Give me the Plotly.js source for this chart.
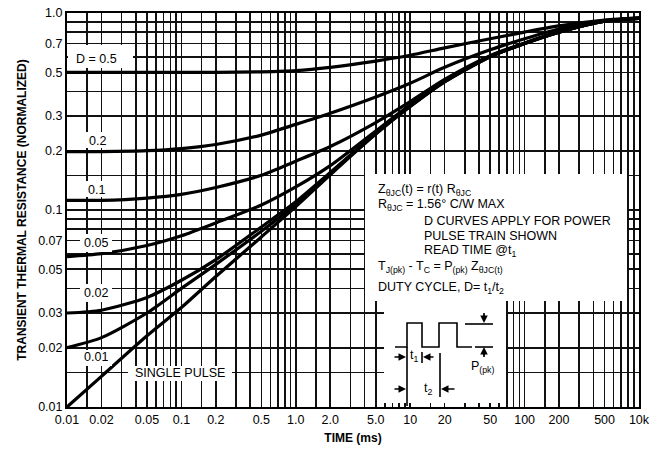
<!DOCTYPE html>
<html>
<head>
<meta charset="utf-8">
<script src="https://cdn.plot.ly/plotly-3.0.1.min.js"></script>
<style>html,body{margin:0;padding:0;background:#fff;}#chart{width:667px;height:450px;}</style>
</head>
<body>
<div id="chart"></div>
<script>
// ---- data ----
const timeMs = [0.01, 0.02, 0.05, 0.1, 0.2, 0.5, 1, 2, 5, 10, 20, 50, 100, 200, 500, 1000];
const dutyLabels = ["D = 0.5", "0.2", "0.1", "0.05", "0.02", "0.01", "SINGLE PULSE"];
const rD05   = [0.5, 0.5, 0.5, 0.5, 0.5, 0.503, 0.51, 0.53, 0.57, 0.61, 0.665, 0.74, 0.8, 0.86, 0.92, 0.945];
const rD02   = [0.198, 0.198, 0.2, 0.205, 0.215, 0.24, 0.272, 0.31, 0.375, 0.44, 0.53, 0.65, 0.74, 0.83, 0.915, 0.94];
const rD01   = [0.112, 0.112, 0.115, 0.12, 0.13, 0.15, 0.177, 0.21, 0.278, 0.355, 0.46, 0.607, 0.705, 0.802, 0.91, 0.94];
const rD005  = [0.058, 0.06, 0.066, 0.074, 0.086, 0.106, 0.131, 0.168, 0.252, 0.342, 0.452, 0.603, 0.702, 0.801, 0.91, 0.94];
const rD002  = [0.03, 0.031, 0.036, 0.044, 0.056, 0.082, 0.11, 0.155, 0.245, 0.337, 0.449, 0.601, 0.701, 0.8, 0.91, 0.94];
const rD001  = [0.02, 0.0225, 0.03, 0.040, 0.053, 0.078, 0.107, 0.153, 0.244, 0.336, 0.448, 0.6, 0.7, 0.8, 0.91, 0.94];
const rSingle= [0.01, 0.0143, 0.023, 0.032, 0.046, 0.073, 0.104, 0.151, 0.243, 0.335, 0.447, 0.6, 0.7, 0.8, 0.91, 0.94];
const xTickVals = [0.01, 0.02, 0.05, 0.1, 0.2, 0.5, 1, 2, 5, 10, 20, 50, 100, 200, 500, 1000];
const xTickText = ["0.01","0.02","0.05","0.1","0.2","0.5","1.0","2.0","5.0","10","20","50","100","200","500","10k"];
const yTickVals = [0.01, 0.02, 0.03, 0.05, 0.07, 0.1, 0.2, 0.3, 0.5, 0.7, 1.0];
const yTickText = ["0.01","0.02","0.03","0.05","0.07","0.1","0.2","0.3","0.5","0.7","1.0"];
const gridMantissas = [1, 1.5, 2, 3, 4, 5, 6, 7, 8, 9];
const xDecades = [0.01, 0.1, 1, 10, 100];
const yDecades = [0.01, 0.1];

// ---- build grid positions ----
function gridVals(decs, last){ const v=[]; decs.forEach(d=>gridMantissas.forEach(m=>v.push(+(m*d).toPrecision(3)))); v.push(last); return v; }
const xGrid = gridVals(xDecades, 1000);
const yGrid = gridVals(yDecades, 1.0);

const series = [rD05, rD02, rD01, rD005, rD002, rD001, rSingle];
const traces = series.map((r,i)=>({
  x: timeMs, y: r, type:'scatter', mode:'lines', name: dutyLabels[i],
  line:{color:'#000', width:3.2, shape:'spline', smoothing:0.7}, hoverinfo:'skip'
}));

// ---- pixel -> paper helpers (plot area 67..639 x 13..407) ----
const L=67, R=639, T=13, B=407;
const px = X => (X-L)/(R-L);
const py = Y => (B-Y)/(B-T);
function rect(x0,y0,x1,y1){ return {type:'rect', xref:'paper', yref:'paper', x0:px(x0), x1:px(x1), y0:py(y1), y1:py(y0), fillcolor:'#fff', line:{width:0}, layer:'above'}; }
function path(pts){ return 'M ' + pts.map(p=>px(p[0]).toFixed(5)+','+py(p[1]).toFixed(5)).join(' L '); }
function pline(pts,w){ return {type:'path', xref:'paper', yref:'paper', path:path(pts), line:{color:'#000', width:w||1.6}, layer:'above'}; }

const shapes = [
  rect(68,45,133,68),     // D = 0.5
  rect(80,132,115,148),   // 0.2
  rect(80,181,113,197),   // 0.1
  rect(80,234,112,252),   // 0.05
  rect(80,284,112,302),   // 0.02
  rect(80,350,112,366),   // 0.01
  rect(128,366,232,381),  // SINGLE PULSE
  rect(365,174,627,301),  // note box
  rect(384,301,506,403),  // pulse diagram box
  // pulse diagram
  pline([[395,347],[407,347],[407,323],[422,323],[422,347],[439,347],[439,323],[457,323],[457,347],[472,347]]),
  pline([[465,324],[493,324]]),
  pline([[475,347],[493,347]]),
  pline([[407,347],[407,406]]),
  pline([[422,352],[422,363]]),
  pline([[440,353],[440,397]]),
  pline([[484,313],[484,320]]),
  pline([[484,350],[484,357]])
];

function arrow(xh,yh,ax,ay){ return {xref:'paper', yref:'paper', x:px(xh), y:py(yh), ax:ax, ay:ay, text:'', showarrow:true, arrowhead:2, arrowsize:1, arrowwidth:1.5, arrowcolor:'#000'}; }
const fnt = {family:'Liberation Sans, Arial, sans-serif', size:12.5, color:'#000'};
function txt(X,Y,t,anchor){ return {xref:'paper', yref:'paper', x:px(X), y:py(Y), text:t, showarrow:false, xanchor:anchor||'center', yanchor:'middle', font:fnt}; }

const annotations = [
  txt(96,59,dutyLabels[0]),
  txt(97,141,dutyLabels[1]),
  txt(96,190,dutyLabels[2]),
  txt(96,243,dutyLabels[3]),
  txt(96,293,dutyLabels[4]),
  txt(96,357,dutyLabels[5]),
  txt(180,373,dutyLabels[6]),
  txt(376,190,'Z<sub>θJC</sub>(t) = r(t) R<sub>θJC</sub>','left'),
  txt(376,205,'R<sub>θJC</sub> = 1.56° C/W MAX','left'),
  txt(422,221,'D CURVES APPLY FOR POWER','left'),
  txt(422,236,'PULSE TRAIN SHOWN','left'),
  txt(422,251,'READ TIME @t<sub>1</sub>','left'),
  txt(376,267,'T<sub>J(pk)</sub> - T<sub>C</sub> = P<sub>(pk)</sub> Z<sub>θJC(t)</sub>','left'),
  txt(376,288,'DUTY CYCLE, D= t<sub>1</sub>/t<sub>2</sub>','left'),
  txt(414,356,'t<sub>1</sub>','center'),
  txt(428,389,'t<sub>2</sub>','center'),
  txt(482,367,'P<sub>(pk)</sub>','center'),
  arrow(406,357,-13,0),
  arrow(423,357,12,0),
  arrow(406,389,-13,0),
  arrow(441,389,15,0),
  arrow(484,323,0,-10),
  arrow(484,347,0,10)
];

const gridStyle = {showgrid:true, gridcolor:'#111', gridwidth:1.6};
const layout = {
  width:667, height:450,
  margin:{l:L, r:667-R, t:T, b:450-B},
  paper_bgcolor:'#fff', plot_bgcolor:'#fff',
  showlegend:false,
  font:{family:'Liberation Sans, Arial, sans-serif', size:12, color:'#000'},
  xaxis:{
    type:'log', range:[Math.log10(0.01), Math.log10(1000)],
    tickmode:'array', tickvals:xTickVals, ticktext:xTickText,
    ticks:'inside', ticklen:6, tickwidth:1.6, tickcolor:'#111',
    showline:true, linecolor:'#000', linewidth:2, mirror:true,
    ...gridStyle,
    minor:{tickmode:'array', tickvals:xGrid, ticks:'inside', ticklen:6, tickwidth:1.6, tickcolor:'#111', showgrid:true, gridcolor:'#111', gridwidth:1.6},
    tickfont:{size:12.5, color:'#000'},
    title:{text:'<b>TIME (ms)</b>', font:{size:12, color:'#000'}, standoff:8},
    zeroline:false, fixedrange:true
  },
  yaxis:{
    type:'log', range:[Math.log10(0.01), Math.log10(1.0)],
    tickmode:'array', tickvals:yTickVals, ticktext:yTickText,
    ticks:'', showline:true, linecolor:'#000', linewidth:2, mirror:true,
    ...gridStyle,
    minor:{tickmode:'array', tickvals:yGrid, showgrid:true, gridcolor:'#111', gridwidth:1.6},
    tickfont:{size:12.5, color:'#000'},
    title:{text:'<b>TRANSIENT THERMAL RESISTANCE (NORMALIZED)</b>', font:{size:12, color:'#000'}, standoff:9},
    zeroline:false, fixedrange:true
  },
  shapes:shapes,
  annotations:annotations
};

Plotly.newPlot('chart', traces, layout, {staticPlot:true, displayModeBar:false});
</script>
</body>
</html>
